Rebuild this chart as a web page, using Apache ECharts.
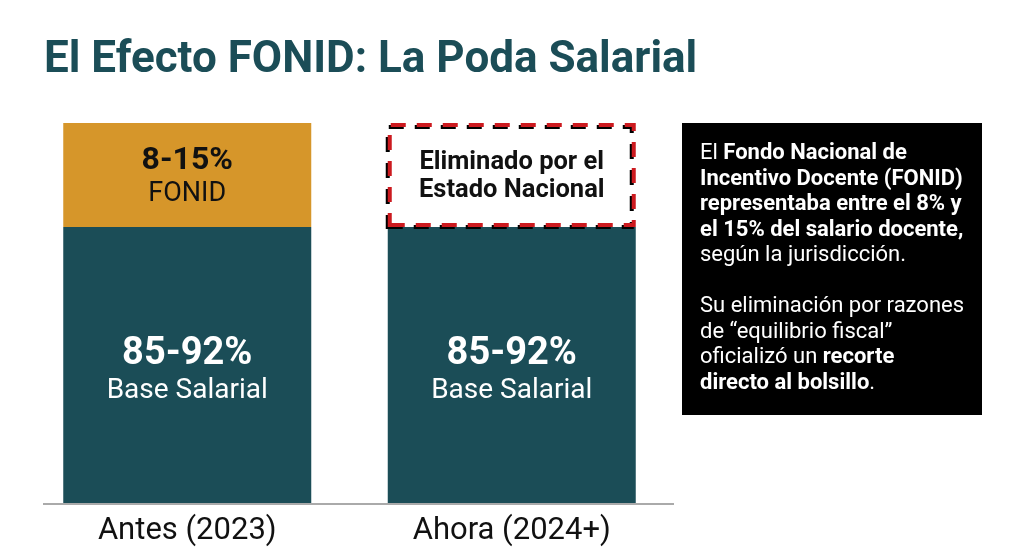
<!DOCTYPE html>
<html>
<head>
<meta charset="utf-8">
<script src="https://cdn.jsdelivr.net/npm/echarts@6/dist/echarts.min.js"></script>
<style>
html,body{margin:0;padding:0;background:#fff;}
#chart{width:1024px;height:549px;}
</style>
</head>
<body>
<div id="chart"></div>
<script>
// ---- data ----
var categories = ['Antes (2023)', 'Ahora (2024+)'];
var baseShare = [72.7, 72.7];
var fonidShare = [27.3, '-'];
var eliminatedShare = ['-', 27.3];
var baseLabel = ['85-92%', 'Base Salarial'];
var fonidLabel = ['8-15%', 'FONID'];
var eliminatedLabel = ['Eliminado por el', 'Estado Nacional'];
var titleText = 'El Efecto FONID: La Poda Salarial';
var noteLines = [
  'El {b|Fondo Nacional de}',
  '{b|Incentivo Docente (FONID)}',
  '{b|representaba entre el 8% y}',
  '{b|el 15% del salario docente,}',
  'según la jurisdicción.',
  '',
  'Su eliminación por razones',
  'de “equilibrio fiscal”',
  'oficializó un {b|recorte}',
  '{b|directo al bolsillo}.'
];

var TEAL = '#1B4D57';
var ORANGE = '#D6962A';
var FONT = 'Roboto, "Noto Sans", sans-serif';

var chart = echarts.init(document.getElementById('chart'));
chart.setOption({
  backgroundColor: '#fff',
  animation: false,
  textStyle: { fontFamily: FONT },
  title: {
    text: titleText,
    left: 39, top: 34,
    textStyle: { fontSize: 44, fontWeight: 'bold', color: TEAL, fontFamily: FONT }
  },
  grid: { left: 25, right: 350, top: 123, bottom: 45 },
  xAxis: {
    type: 'category',
    data: categories,
    axisLine: { show: false },
    axisTick: { show: false },
    axisLabel: { fontSize: 31, color: '#111', margin: 12, fontFamily: FONT }
  },
  yAxis: {
    type: 'value', min: 0, max: 100,
    show: false, splitLine: { show: false }
  },
  series: [
    {
      name: 'Base', type: 'bar', stack: 'total', barWidth: 248,
      data: baseShare,
      itemStyle: { color: TEAL },
      label: {
        show: true, position: 'inside', offset: [0, 6],
        formatter: '{v|' + baseLabel[0] + '}\n{n|' + baseLabel[1] + '}',
        rich: {
          v: { fontSize: 38, fontWeight: 'bold', color: '#fff', lineHeight: 38, fontFamily: FONT },
          n: { fontSize: 28, color: '#fff', lineHeight: 34, fontFamily: FONT }
        }
      }
    },
    {
      name: 'FONID', type: 'bar', stack: 'total', barWidth: 248,
      data: fonidShare,
      itemStyle: { color: ORANGE },
      label: {
        show: true, position: 'inside', offset: [0, 2],
        formatter: '{v|' + fonidLabel[0] + '}\n{n|' + fonidLabel[1] + '}',
        rich: {
          v: { fontSize: 32, fontWeight: 'bold', color: '#111', lineHeight: 34, fontFamily: FONT },
          n: { fontSize: 27, color: '#111', lineHeight: 32, fontFamily: FONT }
        }
      }
    },
    {
      name: 'Eliminado', type: 'bar', stack: 'total', barWidth: 248,
      data: eliminatedShare,
      itemStyle: {
        color: 'rgba(255,255,255,0)', borderColor: '#CC1A1F', borderWidth: 4,
        borderType: [15, 11],
        shadowColor: '#000', shadowBlur: 0, shadowOffsetX: -2, shadowOffsetY: 2
      },
      label: {
        show: true, position: 'inside', offset: [0, 2],
        formatter: '{e|' + eliminatedLabel[0] + '}\n{e|' + eliminatedLabel[1] + '}',
        rich: {
          e: { fontSize: 25.5, fontWeight: 'bold', color: '#111', lineHeight: 28, fontFamily: FONT }
        }
      }
    }
  ],
  graphic: [
    {
      type: 'line', z: 10,
      shape: { x1: 43, y1: 504, x2: 674, y2: 504 },
      style: { stroke: '#AAAAAA', lineWidth: 2 }
    },
    {
      type: 'rect',
      shape: { x: 682, y: 123, width: 300, height: 292 },
      style: { fill: '#000' }
    },
    {
      type: 'text', left: 700, top: 141,
      style: {
        text: noteLines.join('\n'),
        fill: '#fff', fontSize: 22, lineHeight: 25.5, fontFamily: FONT,
        rich: {
          b: { fontWeight: 'bold', fill: '#fff', fontSize: 22, lineHeight: 25.5, fontFamily: FONT }
        }
      }
    }
  ]
});
</script>
</body>
</html>
